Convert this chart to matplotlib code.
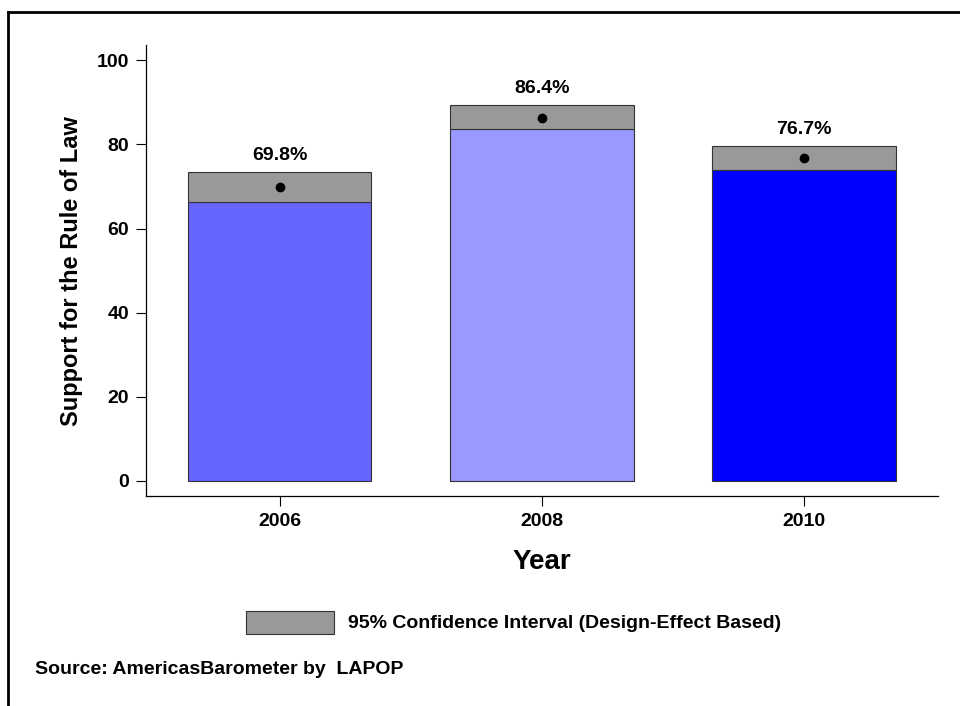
import matplotlib.pyplot as plt
from matplotlib.lines import Line2D

plt.rcParams['font.family'] = ['Liberation Sans', 'DejaVu Sans']
plt.rcParams['font.weight'] = 'bold'

# data
years = ["2006", "2008", "2010"]
means = [69.8, 86.4, 76.7]
ci_low = [66.2, 83.7, 73.9]
ci_high = [73.4, 89.3, 79.6]
bar_colors = ["#6666ff", "#9999ff", "#0000ff"]
ci_color = "#999999"

fig = plt.figure(figsize=(9.6, 7.06), dpi=100)
ax = fig.add_axes([0.152, 0.2975, 0.825, 0.6385])

x = list(range(len(years)))
ax.bar(x, ci_low, width=0.7, color=bar_colors, edgecolor="#333333", linewidth=0.8, zorder=2)
ax.bar(x, [h - l for h, l in zip(ci_high, ci_low)], bottom=ci_low, width=0.7,
       color=ci_color, edgecolor="#333333", linewidth=0.8, zorder=2)
ax.plot(x, means, "o", color="black", markersize=6, zorder=3)

for xi, m, h in zip(x, means, ci_high):
    ax.annotate(f"{m}%", (xi, h), xytext=(0, 9), textcoords="offset points",
                ha="center", va="baseline", fontsize=14, fontweight="bold")

ax.set_xlim(-0.51, 2.51)
ax.set_ylim(-3.6, 103.6)
ax.set_yticks([0, 20, 40, 60, 80, 100])
ax.set_xticks(x)
ax.set_xticklabels(years)
ax.tick_params(axis="both", labelsize=14, length=7, width=0.8, direction="out", pad=5)
ax.spines["top"].set_visible(False)
ax.spines["right"].set_visible(False)
ax.spines["left"].set_linewidth(0.9)
ax.spines["bottom"].set_linewidth(0.9)
for lab in ax.get_xticklabels() + ax.get_yticklabels():
    lab.set_fontweight("bold")

ax.set_xlabel("Year", fontsize=20, fontweight="bold", labelpad=14)
ax.set_ylabel("Support for the Rule of Law", fontsize=17, fontweight="bold", labelpad=10)

# legend patch + text
fig.patches.append(plt.Rectangle((246 / 960, 1 - 634 / 706), 88 / 960, 23 / 706,
                                 transform=fig.transFigure, facecolor=ci_color,
                                 edgecolor="#333333", linewidth=0.8))
fig.text(348 / 960, 1 - 623 / 706, "95% Confidence Interval (Design-Effect Based)",
         fontsize=14, fontweight="bold", va="center", ha="left")
fig.text(35 / 960, 1 - 669 / 706, "Source: AmericasBarometer by  LAPOP",
         fontsize=14, fontweight="bold", va="center", ha="left")

# outer frame (top and left)
fig.lines.append(Line2D([8 / 960, 1], [1 - 12 / 706, 1 - 12 / 706], transform=fig.transFigure,
                        color="black", linewidth=2))
fig.lines.append(Line2D([8 / 960, 8 / 960], [0, 1 - 12 / 706], transform=fig.transFigure,
                        color="black", linewidth=2))

fig.savefig("out.png", dpi=100, facecolor="white")
